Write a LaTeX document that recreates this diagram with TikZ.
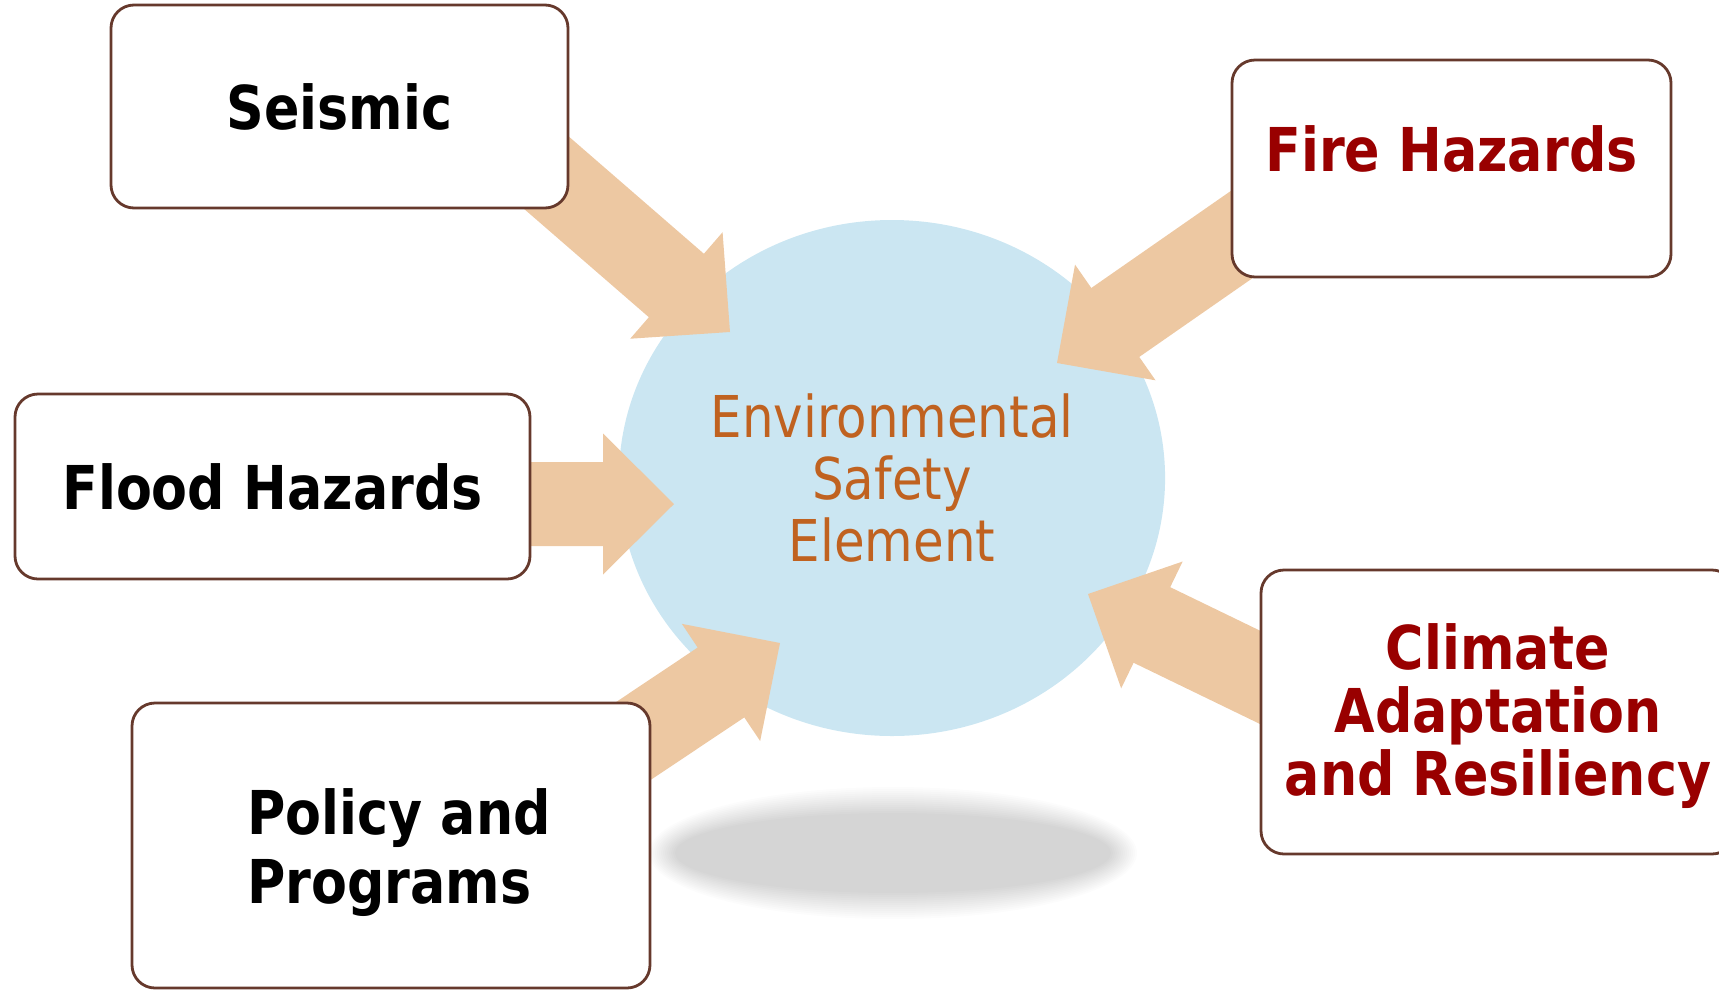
\documentclass[tikz,border=0pt]{standalone}
\usepackage{fontspec}
\setmainfont{DejaVu Sans}[FakeStretch=0.865]
\usepackage{tikz}
\usetikzlibrary{calc,positioning}
\usetikzlibrary{shapes.geometric}

\definecolor{discblue}{RGB}{203,230,242}
\definecolor{arrowpeach}{RGB}{237,200,162}
\definecolor{boxbrown}{RGB}{102,57,44}
\definecolor{hazardred}{RGB}{153,0,0}
\definecolor{elemorange}{RGB}{192,98,32}

% fat arrow from #1 (tail) to #2 (tip)
\newcommand{\blockarrow}[2]{%
  \coordinate (ba-base) at ($(#2)!7.1mm!(#1)$);
  \fill[arrowpeach] ($(#1)!4.2mm!90:(#2)$) -- ($(ba-base)!4.2mm!90:(#2)$) -- ($(ba-base)!7.05mm!90:(#2)$)
    -- (#2) -- ($(ba-base)!7.05mm!-90:(#2)$) -- ($(ba-base)!4.2mm!-90:(#2)$) -- ($(#1)!4.2mm!-90:(#2)$) -- cycle;}

\begin{document}
\begin{tikzpicture}[x=0.1mm, y=-0.1mm]
  \tikzstyle{topic} = [draw=boxbrown, line width=0.28mm, fill=white, rounded corners=2.3mm, align=center, font={\bfseries\fontsize{17.2}{18}\selectfont}]
  \tikzstyle{disc} = [ellipse, fill=discblue, text=elemorange, align=center, font={\fontsize{16.4}{17.7}\selectfont}]
  \useasboundingbox (0,0) rectangle (1719,989);

  % soft shadow under the disc
  \foreach \d in {0,2,...,26}
    \fill[black, opacity=0.0125] (893,853) ellipse ({218+\d} and {40+\d});

  \node[disc, minimum width=53.6mm, minimum height=51.6mm] (element) at (892,478) {Environmental\\Safety\\Element};

  \coordinate (seismic-tail) at (526,155);  \coordinate (seismic-tip) at (730,332);
  \coordinate (flood-tail) at (450,504);    \coordinate (flood-tip) at (674,504);
  \coordinate (policy-tail) at (572,782);   \coordinate (policy-tip) at (780,643);
  \coordinate (fire-tail) at (1287,203);    \coordinate (fire-tip) at (1057,363);
  \coordinate (climate-tail) at (1313,703); \coordinate (climate-tip) at (1088,594);

  \blockarrow{seismic-tail}{seismic-tip}
  \blockarrow{flood-tail}{flood-tip}
  \blockarrow{policy-tail}{policy-tip}
  \blockarrow{fire-tail}{fire-tip}
  \blockarrow{climate-tail}{climate-tip}

  \node[topic, minimum width=45.7mm, minimum height=20.3mm] (seismic) at (339.5,106.5) {Seismic};
  \node[topic, minimum width=51.5mm, minimum height=18.5mm] (flood) at (272.5,486.5) {Flood Hazards};
  \node[topic, minimum width=51.8mm, minimum height=28.5mm, align=left] (policy) at (391,845.5)
    {\hspace*{1.6mm}\rule{0pt}{6mm}Policy and\\[0.5mm]\hspace*{1.6mm}Programs};
  \node[topic, text=hazardred, minimum width=43.9mm, minimum height=21.7mm, text depth=4mm] (fire) at (1451.5,168.5) {Fire Hazards};
  \node[topic, text=hazardred, minimum width=47.4mm, minimum height=28.4mm] (climate) at (1498,712)
    {\rule{0pt}{5.4mm}Climate\\Adaptation\\and Resiliency};
\end{tikzpicture}
\end{document}
